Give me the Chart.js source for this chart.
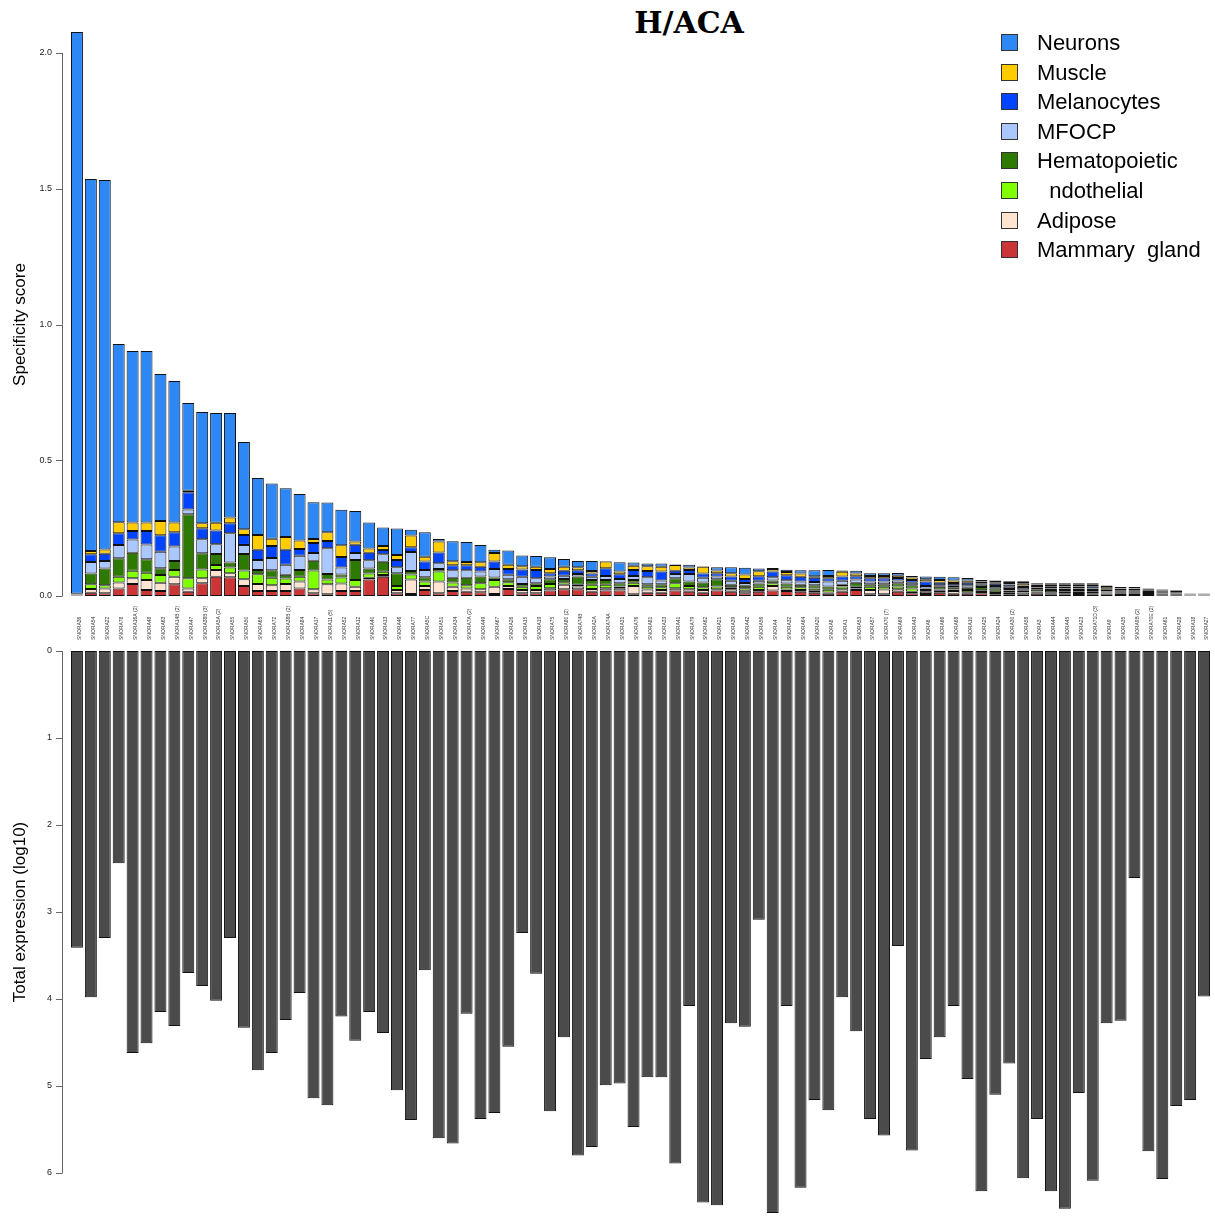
<!DOCTYPE html>
<html>
<head>
<meta charset="utf-8">
<script src="https://cdn.jsdelivr.net/npm/chart.js@4.4.1/dist/chart.umd.min.js"></script>
<style>
  body { margin: 0; background: #fff; }
  #wrap { position: relative; width: 1215px; height: 1217px; overflow: hidden; }
  canvas { position: absolute; left: 0; }
  #title { position: absolute; left: 539px; top: 5px; width: 300px; text-align: center;
           font: bold 30px "DejaVu Serif", serif; line-height: 36px; color: #000; }
  #legend { position: absolute; left: 1001px; top: 28px; font: 22px "Liberation Sans", Arial, sans-serif; color: #000; }
  .row { height: 29.6px; line-height: 29.6px; white-space: pre; position: relative; }
  .sw { position: absolute; left: 0; top: 6px; width: 15px; height: 15px; border: 1px solid #333; }
  .lbl { position: absolute; left: 36px; top: 0; }
</style>
</head>
<body>
<div id="wrap">
  <div id="title">H/ACA</div>
  <canvas id="spec" width="1215" height="645" style="top:0"></canvas>
  <canvas id="expr" width="1215" height="572" style="top:645px"></canvas>
  <div id="legend"></div>
</div>
<script>
// snoRNA names, ordered by specificity score
const names = ['SNORA36','SNORA54','SNORA22','SNORA78','SNORA16A (2)','SNORA48','SNORA63','SNORA14B (2)','SNORA47','SNORA38B (3)',
  'SNORA5A (2)','SNORA55','SNORA50','SNORA65','SNORA72','SNORA38B (2)','SNORA84','SNORA17','SNORA11 (5)','SNORA52',
  'SNORA12','SNORA40','SNORA13','SNORA46','SNORA77','SNORA5C','SNORA51','SNORA34','SNORA7A (2)','SNORA49',
  'SNORA67','SNORA26','SNORA15','SNORA19','SNORA75','SNORA80 (2)','SNORA74B','SNORA2A','SNORA74A','SNORA31',
  'SNORA76','SNORA81','SNORA33','SNORA41','SNORA79','SNORA62','SNORA21','SNORA39','SNORA42','SNORA56',
  'SNORA4','SNORA32','SNORA64','SNORA20','SNORA8','SNORA1','SNORA53','SNORA57','SNORA70 (7)','SNORA69',
  'SNORA43','SNORA6','SNORA66','SNORA68','SNORA10','SNORA25','SNORA24','SNORA30 (2)','SNORA58','SNORA3',
  'SNORA44','SNORA45','SNORA23','SNORA71D (3)','SNORA9','SNORA35','SNORA9B (2)','SNORA70E (2)','SNORA61','SNORA28',
  'SNORA18','SNORA27'];

// specificity score per tissue (stack order bottom -> top)
const mammary = [0.002,0.012,0.01,0.028,0.044,0.022,0.018,0.043,0.016,0.047, 0.071,0.069,0.037,0.018,0.018,0.018,0.028,0.01,0.006,0.018,
  0.018,0.061,0.071,0.01,0.007,0.022,0.01,0.018,0.016,0.014, 0.007,0.026,0.01,0.01,0.02,0.025,0.025,0.016,0.02,0.02,
  0.006,0.012,0.012,0.02,0.016,0.012,0.02,0.016,0.01,0.016, 0.02,0.018,0.016,0.012,0.008,0.016,0.022,0.006,0.006,0.016,
  0.01,0.007,0.012,0.008,0.008,0.01,0.006,0.006,0.005,0.008, 0.006,0.006,0.007,0.006,0.005,0.004,0.004,0.004,0.003,0.003, 0.0015,0.0015];
const adipose = [0.001,0.0135,0.018,0.022,0.021,0.037,0.031,0.028,0.012,0.018, 0.025,0.015,0.025,0.026,0.022,0.026,0.025,0.015,0.037,0.028,
  0.016,0.006,0.006,0.012,0.054,0.015,0.043,0.016,0.012,0.011, 0.027,0.011,0.012,0.012,0.009,0.016,0.01,0.01,0.009,0.009,
  0.031,0.012,0.01,0.009,0.009,0.01,0.005,0.009,0.009,0.006, 0.017,0.006,0.006,0.007,0.005,0.009,0.006,0.016,0.018,0.009,
  0.006,0.009,0.007,0.01,0.006,0.005,0.005,0.008,0.008,0.004, 0.004,0.004,0.004,0.004,0.004,0.004,0.004,0.003,0.003,0.003, 0.001,0.001];
const endothelial = [0.001,0.018,0.012,0.021,0.028,0.027,0.028,0.025,0.037,0.033, 0.018,0.021,0.032,0.036,0.027,0.02,0.018,0.069,0.018,0.022,
  0.025,0.016,0.012,0.015,0.018,0.016,0.037,0.016,0.012,0.022, 0.025,0.014,0.012,0.015,0.015,0.01,0.006,0.015,0.012,0.006,
  0.012,0.01,0.01,0.018,0.012,0.01,0.01,0.007,0.01,0.012, 0.01,0.01,0.01,0.009,0.01,0.01,0.006,0.012,0.01,0.01,
  0.012,0.006,0.005,0.006,0.008,0.006,0.008,0.006,0.006,0.005, 0.004,0.006,0.005,0.006,0.004,0.004,0.004,0.004,0.003,0.003, 0.001,0.001];
const hematopoietic = [0.001,0.039,0.061,0.068,0.066,0.049,0.025,0.033,0.236,0.059, 0.041,0.018,0.061,0.016,0.028,0.014,0.025,0.036,0.02,0.011,
  0.074,0.018,0.037,0.047,0.013,0.016,0.009,0.017,0.027,0.025, 0.009,0.011,0.01,0.01,0.018,0.012,0.031,0.018,0.018,0.012,
  0.01,0.009,0.011,0.018,0.016,0.018,0.027,0.009,0.009,0.012, 0.01,0.012,0.009,0.012,0.012,0.006,0.015,0.009,0.009,0.012,
  0.012,0.006,0.01,0.008,0.008,0.012,0.01,0.006,0.006,0.008, 0.008,0.006,0.006,0.006,0.004,0.004,0.004,0.004,0.003,0.003, 0.0015,0.0015];
const mfocp = [0.001,0.043,0.028,0.049,0.049,0.055,0.061,0.053,0.018,0.052, 0.036,0.108,0.033,0.037,0.045,0.037,0.052,0.028,0.095,0.026,
  0.025,0.031,0.028,0.022,0.07,0.027,0.022,0.028,0.028,0.018, 0.031,0.016,0.027,0.018,0.01,0.012,0.009,0.012,0.015,0.016,
  0.015,0.026,0.014,0.016,0.028,0.017,0.01,0.015,0.01,0.01, 0.012,0.012,0.012,0.012,0.018,0.015,0.012,0.01,0.01,0.01,
  0.009,0.009,0.006,0.008,0.01,0.008,0.008,0.008,0.008,0.006, 0.006,0.006,0.006,0.006,0.006,0.005,0.005,0.004,0.004,0.003, 0.0015,0.0015];
const melanocytes = [0.001,0.028,0.027,0.043,0.031,0.049,0.061,0.053,0.063,0.041, 0.05,0.037,0.037,0.037,0.044,0.055,0.025,0.037,0.027,0.039,
  0.031,0.027,0.015,0.027,0.018,0.031,0.039,0.018,0.018,0.018, 0.028,0.021,0.027,0.031,0.012,0.018,0.014,0.012,0.028,0.017,
  0.022,0.023,0.033,0.012,0.015,0.016,0.012,0.016,0.015,0.017, 0.021,0.018,0.018,0.015,0.012,0.016,0.012,0.012,0.012,0.009,
  0.01,0.016,0.009,0.008,0.009,0.006,0.008,0.008,0.006,0.006, 0.006,0.007,0.007,0.008,0.006,0.006,0.006,0.004,0.004,0.003, 0.0015,0.0015];
const muscle = [0.001,0.012,0.015,0.041,0.032,0.032,0.052,0.036,0.006,0.018, 0.029,0.021,0.021,0.055,0.027,0.047,0.031,0.015,0.032,0.043,
  0.012,0.016,0.015,0.018,0.043,0.018,0.041,0.015,0.012,0.016, 0.031,0.016,0.012,0.012,0.015,0.015,0.011,0.009,0.025,0.01,
  0.015,0.018,0.018,0.021,0.009,0.025,0.01,0.012,0.016,0.018, 0.009,0.012,0.012,0.006,0.009,0.017,0.01,0.009,0.009,0.009,
  0.009,0.009,0.01,0.009,0.008,0.006,0.006,0.006,0.008,0.005, 0.007,0.006,0.006,0.005,0.008,0.002,0.002,0.003,0.003,0.002, 0.001,0.001];
const neurons = [2.069,1.37,1.361,0.656,0.631,0.631,0.542,0.521,0.323,0.41, 0.404,0.385,0.321,0.21,0.203,0.18,0.172,0.135,0.109,0.131,
  0.112,0.096,0.068,0.098,0.021,0.09,0.009,0.074,0.074,0.064, 0.012,0.053,0.039,0.039,0.044,0.028,0.023,0.037,0.002,0.034,
  0.012,0.01,0.012,0.002,0.01,0.002,0.012,0.022,0.025,0.01, 0.004,0.009,0.012,0.022,0.022,0.005,0.01,0.01,0.01,0.01,
  0.006,0.01,0.012,0.012,0.009,0.006,0.006,0.006,0.007,0.005, 0.006,0.006,0.006,0.006,0.002,0.004,0.004,0.002,0.002,0.002, 0.001,0.001];

// total expression (log10)
const expression = [3.41,3.98,3.30,2.44,4.62,4.51,4.15,4.31,3.70,3.85, 4.02,3.30,4.33,4.82,4.62,4.24,3.93,5.14,5.22,4.20,
  4.48,4.15,4.39,5.05,5.39,3.67,5.60,5.66,4.17,5.38, 5.31,4.55,3.24,3.71,5.29,4.44,5.80,5.70,4.99,4.97,
  5.47,4.90,4.90,5.89,4.08,6.34,6.37,4.28,4.32,3.09, 6.46,4.08,6.17,5.16,5.28,3.98,4.37,5.38,5.57,3.39,
  5.74,4.69,4.44,4.08,4.92,6.21,5.10,4.74,6.06,5.38, 6.21,6.41,5.08,6.09,4.28,4.25,2.61,5.75,6.07,5.23, 5.16,3.97];

const specTicks = ['0.0', '0.5', '1.0', '1.5', '2.0'];
const exprTicks = ['0', '1', '2', '3', '4', '5', '6'];

const tissues = [
  { name: 'Mammary  gland', data: mammary, color: '#cc3535' },
  { name: 'Adipose', data: adipose, color: '#ffe4d2' },
  { name: '  ndothelial', data: endothelial, color: '#80ff00' },
  { name: 'Hematopoietic', data: hematopoietic, color: '#2e7a00' },
  { name: 'MFOCP', data: mfocp, color: '#aac8ff' },
  { name: 'Melanocytes', data: melanocytes, color: '#0044ff' },
  { name: 'Muscle', data: muscle, color: '#ffcc00' },
  { name: 'Neurons', data: neurons, color: '#2d87f5' }
];

Chart.defaults.font.family = '"Liberation Sans", Arial, sans-serif';

// R style axis: line and ticks set a little left of the bars
const axisLine = {
  id: 'axisLine',
  afterDraw(chart) {
    const y = chart.scales.y, ctx = chart.ctx;
    const px = y.ticks.map(t => y.getPixelForValue(t.value));
    ctx.save();
    ctx.strokeStyle = '#666';
    ctx.lineWidth = 1;
    ctx.beginPath();
    ctx.moveTo(62.5, Math.min(...px));
    ctx.lineTo(62.5, Math.max(...px));
    px.forEach(p => { ctx.moveTo(56, Math.round(p) + 0.5); ctx.lineTo(62.5, Math.round(p) + 0.5); });
    ctx.stroke();
    ctx.restore();
  }
};

// vertical bar names, starting at the bottom and reading upward
const snoLabels = {
  id: 'snoLabels',
  afterDraw(chart) {
    const x = chart.scales.x, ctx = chart.ctx;
    ctx.save();
    ctx.font = '5px "Liberation Sans", Arial, sans-serif';
    ctx.fillStyle = '#333';
    ctx.textAlign = 'left';
    ctx.textBaseline = 'middle';
    names.forEach((n, i) => {
      ctx.save();
      ctx.translate(x.getPixelForValue(i) + 3, 640);
      ctx.rotate(-Math.PI / 2);
      ctx.fillText(n, 0, 0);
      ctx.restore();
    });
    ctx.restore();
  }
};

const barStyle = { borderColor: '#111', borderWidth: 1, borderSkipped: false, categoryPercentage: 1, barPercentage: 0.86, clip: false };

const yFit = s => { s.width = 70; s.paddingTop = 5; s.paddingBottom = 5; };

new Chart(document.getElementById('spec'), {
  type: 'bar',
  data: {
    labels: names,
    datasets: tissues.map(t => Object.assign({ label: t.name, data: t.data, backgroundColor: t.color }, barStyle))
  },
  options: {
    responsive: false,
    animation: false,
    devicePixelRatio: 1,
    layout: { padding: { top: 53, right: 4, left: 0, bottom: 0 } },
    plugins: { legend: { display: false }, tooltip: { enabled: false } },
    scales: {
      x: {
        stacked: true,
        grid: { display: false, drawTicks: false },
        border: { display: false },
        ticks: { display: false },
        afterFit: s => { s.height = 49; }
      },
      y: {
        stacked: true,
        min: 0, max: 2,
        grid: { display: false, drawTicks: false },
        border: { display: false },
        ticks: { stepSize: 0.5, padding: 18, color: '#222', font: { size: 9 }, callback: v => specTicks[Math.round(v / 0.5)] },
        title: { display: true, text: 'Specificity score', color: '#000', font: { size: 17 }, padding: { top: 10, bottom: 0 } },
        afterFit: yFit
      }
    }
  },
  plugins: [axisLine, snoLabels]
});

new Chart(document.getElementById('expr'), {
  type: 'bar',
  data: {
    labels: names,
    datasets: [Object.assign({ label: 'Total expression', data: expression, backgroundColor: '#4b4b4b' }, barStyle)]
  },
  options: {
    responsive: false,
    animation: false,
    devicePixelRatio: 1,
    layout: { padding: { top: 6, right: 4, left: 0, bottom: 0 } },
    plugins: { legend: { display: false }, tooltip: { enabled: false } },
    scales: {
      x: {
        grid: { display: false, drawTicks: false },
        border: { display: false },
        ticks: { display: false },
        afterFit: s => { s.height = 44; }
      },
      y: {
        reverse: true,
        min: 0, max: 6,
        grid: { display: false, drawTicks: false },
        border: { display: false },
        ticks: { stepSize: 1, padding: 18, color: '#222', font: { size: 9 }, callback: v => exprTicks[Math.round(v)] },
        title: { display: true, text: 'Total expression (log10)', color: '#000', font: { size: 17 }, padding: { top: 10, bottom: 0 } },
        afterFit: yFit
      }
    }
  },
  plugins: [axisLine]
});

// legend, top tissue first
const legend = document.getElementById('legend');
tissues.slice().reverse().forEach(t => {
  const row = document.createElement('div');
  row.className = 'row';
  row.innerHTML = '<span class="sw" style="background:' + t.color + '"></span><span class="lbl"></span>';
  row.querySelector('.lbl').textContent = t.name;
  legend.appendChild(row);
});
</script>
</body>
</html>
